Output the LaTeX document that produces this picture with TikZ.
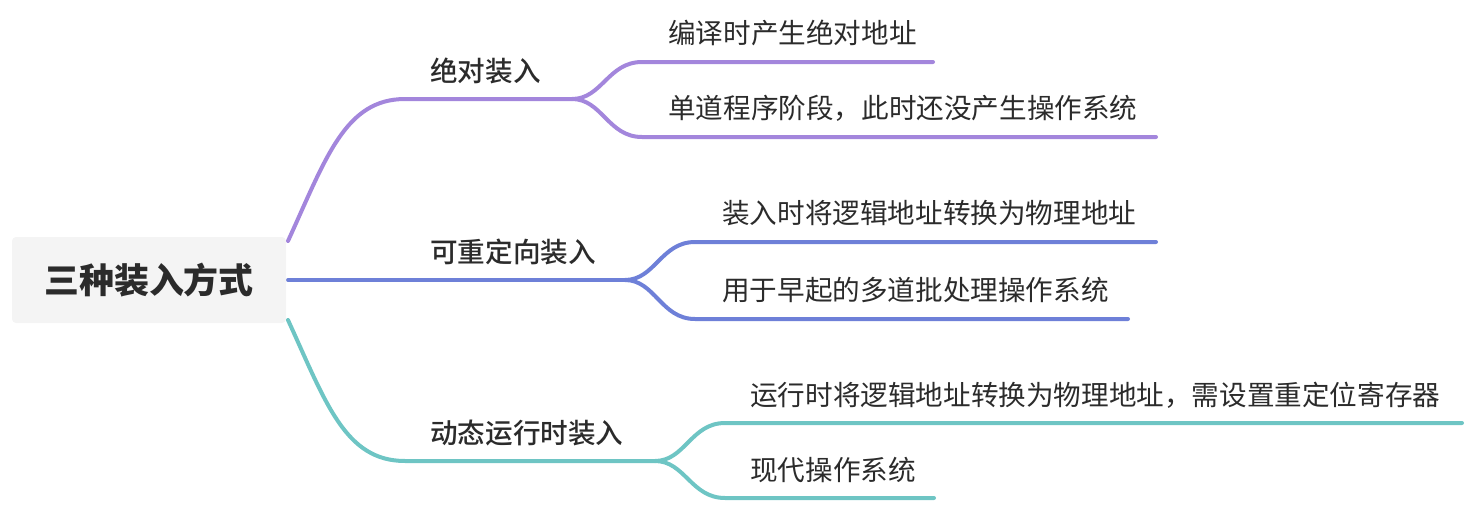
\documentclass[tikz,border=0pt]{standalone}
\usepackage{fontspec}
\setmainfont{Noto Sans CJK SC}
\newfontfamily\cjk{Noto Sans CJK SC}
\newfontfamily\cjkm{Noto Sans CJK SC Medium}
\definecolor{cpur}{HTML}{A386DC}
\definecolor{cblu}{HTML}{6E80D8}
\definecolor{ctea}{HTML}{6EC5C4}
\definecolor{ctxt}{HTML}{2B2B2B}
\definecolor{cbox}{HTML}{F4F4F4}
\begin{document}
\begin{tikzpicture}[x=0.75pt,y=-0.75pt,
  br/.style={line width=3pt,line cap=round,line join=round},
  pbr/.style={br,draw=cpur},
  bbr/.style={br,draw=cblu},
  tbr/.style={br,draw=ctea},
  rootbox/.style={fill=cbox,rounded corners=3pt,minimum width=205.5pt,minimum height=64.5pt,inner sep=0pt,font=\cjk\bfseries\fontsize{26.2pt}{30pt}\selectfont,text=ctxt},
  lvl1/.style={anchor=west,inner sep=0pt,font=\cjkm\fontsize{20.7pt}{24pt}\selectfont,text=ctxt},
  lvl2/.style={anchor=west,inner sep=0pt,font=\cjk\fontsize{20.7pt}{24pt}\selectfont,text=ctxt}]
\useasboundingbox (0,0) rectangle (1472,504);

% anchor points of connectors
\coordinate (r1) at (288,241);
\coordinate (r2) at (288,280);
\coordinate (r3) at (288,320);
\coordinate (f1) at (572,99);
\coordinate (f2) at (625,280);
\coordinate (f3) at (655,461);
\coordinate (e11) at (933,62);
\coordinate (e12) at (1156,137);
\coordinate (e21) at (1156,242);
\coordinate (e22) at (1128,319);
\coordinate (e31) at (1462,423);
\coordinate (e32) at (934,498);

% main branches
\draw[pbr] (r1) .. controls (326,158) and (345,99) .. (405,99) -- (f1);
\draw[bbr] (r2) -- (f2);
\draw[tbr] (r3) .. controls (326,403) and (345,461) .. (405,461) -- (f3);

% sub branches
\draw[pbr] (f1) .. controls (602,99) and (608,62) .. (642,62) -- (e11);
\draw[pbr] (f1) .. controls (602,99) and (608,137) .. (642,137) -- (e12);
\draw[bbr] (f2) .. controls (655,280) and (661,242) .. (695,242) -- (e21);
\draw[bbr] (f2) .. controls (655,280) and (661,319) .. (695,319) -- (e22);
\draw[tbr] (f3) .. controls (685,461) and (691,423) .. (725,423) -- (e31);
\draw[tbr] (f3) .. controls (685,461) and (691,498) .. (725,498) -- (e32);

% root
\node[rootbox] (root) at (149,280) {三种装入方式};

% level 1 labels
\node[lvl1] (b1) at (430,71) {绝对装入};
\node[lvl1] (b2) at (430,252) {可重定向装入};
\node[lvl1] (b3) at (430,433) {动态运行时装入};

% level 2 labels
\node[lvl2] (c11) at (668,33) {编译时产生绝对地址};
\node[lvl2] (c12) at (668,108) {单道程序阶段，此时还没产生操作系统};
\node[lvl2] (c21) at (722,213) {装入时将逻辑地址转换为物理地址};
\node[lvl2] (c22) at (722,290) {用于早起的多道批处理操作系统};
\node[lvl2] (c31) at (750,395) {运行时将逻辑地址转换为物理地址，需设置重定位寄存器};
\node[lvl2] (c32) at (750,470) {现代操作系统};
\end{tikzpicture}
\end{document}
